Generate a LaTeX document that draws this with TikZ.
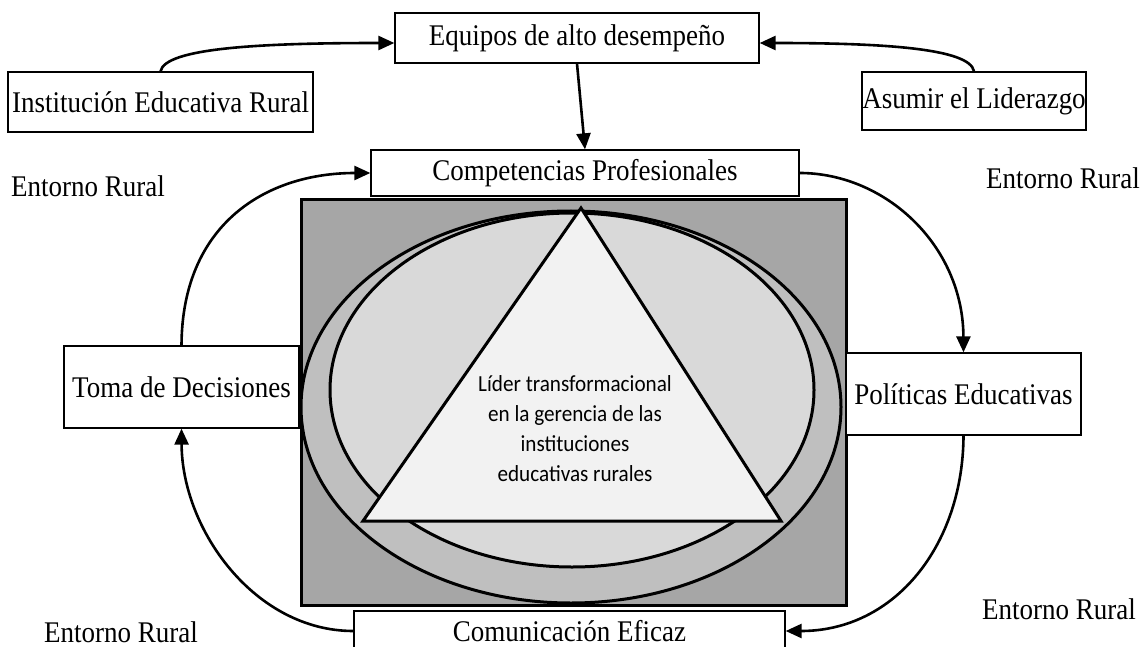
\documentclass[tikz,border=0pt]{standalone}
\usepackage{fontspec}
\setmainfont{Liberation Serif}[FakeStretch=0.9]
\newfontfamily\calibri{Carlito}[FakeStretch=0.92]
\usetikzlibrary{arrows.meta}

\begin{document}
\begin{tikzpicture}[x=1pt, y=-1pt,
    stagebox/.style={draw=borderColour, fill=white, line width=1.3pt, inner sep=0pt, font=\fontsize{30}{36}\selectfont},
    envtext/.style={inner sep=0pt, font=\fontsize{30}{36}\selectfont},
    flowarrow/.style={line width=2.6pt, -{Triangle[length=16pt,width=14pt]}},
    layerline/.style={draw=borderColour, line width=3pt}]
    % Define colours
    \definecolor{borderColour}{HTML}{000000}
    \definecolor{squareColour}{HTML}{A6A6A6}
    \definecolor{ringColour}{HTML}{BFBFBF}
    \definecolor{ellipseColour}{HTML}{D9D9D9}
    \definecolor{triangleColour}{HTML}{F2F2F2}

    % Fix picture size
    \clip (0,0) rectangle (1140,647);

    % Draw square and ellipses
    \filldraw[layerline, fill=squareColour] (301,200) rectangle (846,605);
    \filldraw[layerline, fill=ringColour] (571,407) ellipse [x radius=270pt, y radius=196pt];
    \filldraw[layerline, fill=ellipseColour] (572,390) ellipse [x radius=242pt, y radius=177pt];

    % Define coordinates for the triangle
    \coordinate (A) at (581,208);
    \coordinate (B) at (363,521);
    \coordinate (C) at (781,521);

    % Draw the triangle
    \filldraw[layerline, fill=triangleColour] (A) -- (B) -- (C) -- cycle;
    \node[font=\calibri\fontsize{23}{30}\selectfont, align=center] (lider) at (575,429)
        {Líder transformacional\\en la gerencia de las\\instituciones\\educativas rurales};

    % Draw boxes
    \node[stagebox, minimum width=364, minimum height=50] (equipos) at (577,38) {Equipos de alto desempeño};
    \node[stagebox, minimum width=305, minimum height=60] (institucion) at (160.5,102) {Institución Educativa Rural};
    \node[stagebox, minimum width=224, minimum height=58] (asumir) at (974,101) {Asumir el Liderazgo};
    \node[stagebox, minimum width=428, minimum height=46] (competencias) at (585,173) {Competencias Profesionales};
    \node[stagebox, minimum width=235, minimum height=82] (toma) at (181.5,387) {Toma de Decisiones};
    \node[stagebox, minimum width=235, minimum height=82] (politicas) at (963.5,394) {Políticas Educativas};
    \node[stagebox, minimum width=431, minimum height=40] (comunicacion) at (569.5,631) {Comunicación Eficaz};

    % Label surroundings
    \node[envtext] (entornoA) at (88,186) {Entorno Rural};
    \node[envtext] (entornoB) at (1063,178) {Entorno Rural};
    \node[envtext] (entornoC) at (1059,609) {Entorno Rural};
    \node[envtext] (entornoD) at (121,632) {Entorno Rural};

    % Draw arrows
    \draw[flowarrow] (institucion.north) .. controls (165,48) and (260,43) .. ([yshift=-5pt]equipos.west);
    \draw[flowarrow] (asumir.north) .. controls (970,48) and (880,43) .. ([yshift=-5pt]equipos.east);
    \draw[flowarrow] (equipos.south) -- (competencias.north);
    \draw[flowarrow] (toma.north) .. controls (182,225) and (265,173) .. (competencias.west);
    \draw[flowarrow] (competencias.east) .. controls (885,173) and (963,245) .. (politicas.north);
    \draw[flowarrow] (politicas.south) .. controls (963,545) and (895,631) .. (comunicacion.east);
    \draw[flowarrow] (comunicacion.west) .. controls (255,631) and (182,530) .. (toma.south);
\end{tikzpicture}
\end{document}
